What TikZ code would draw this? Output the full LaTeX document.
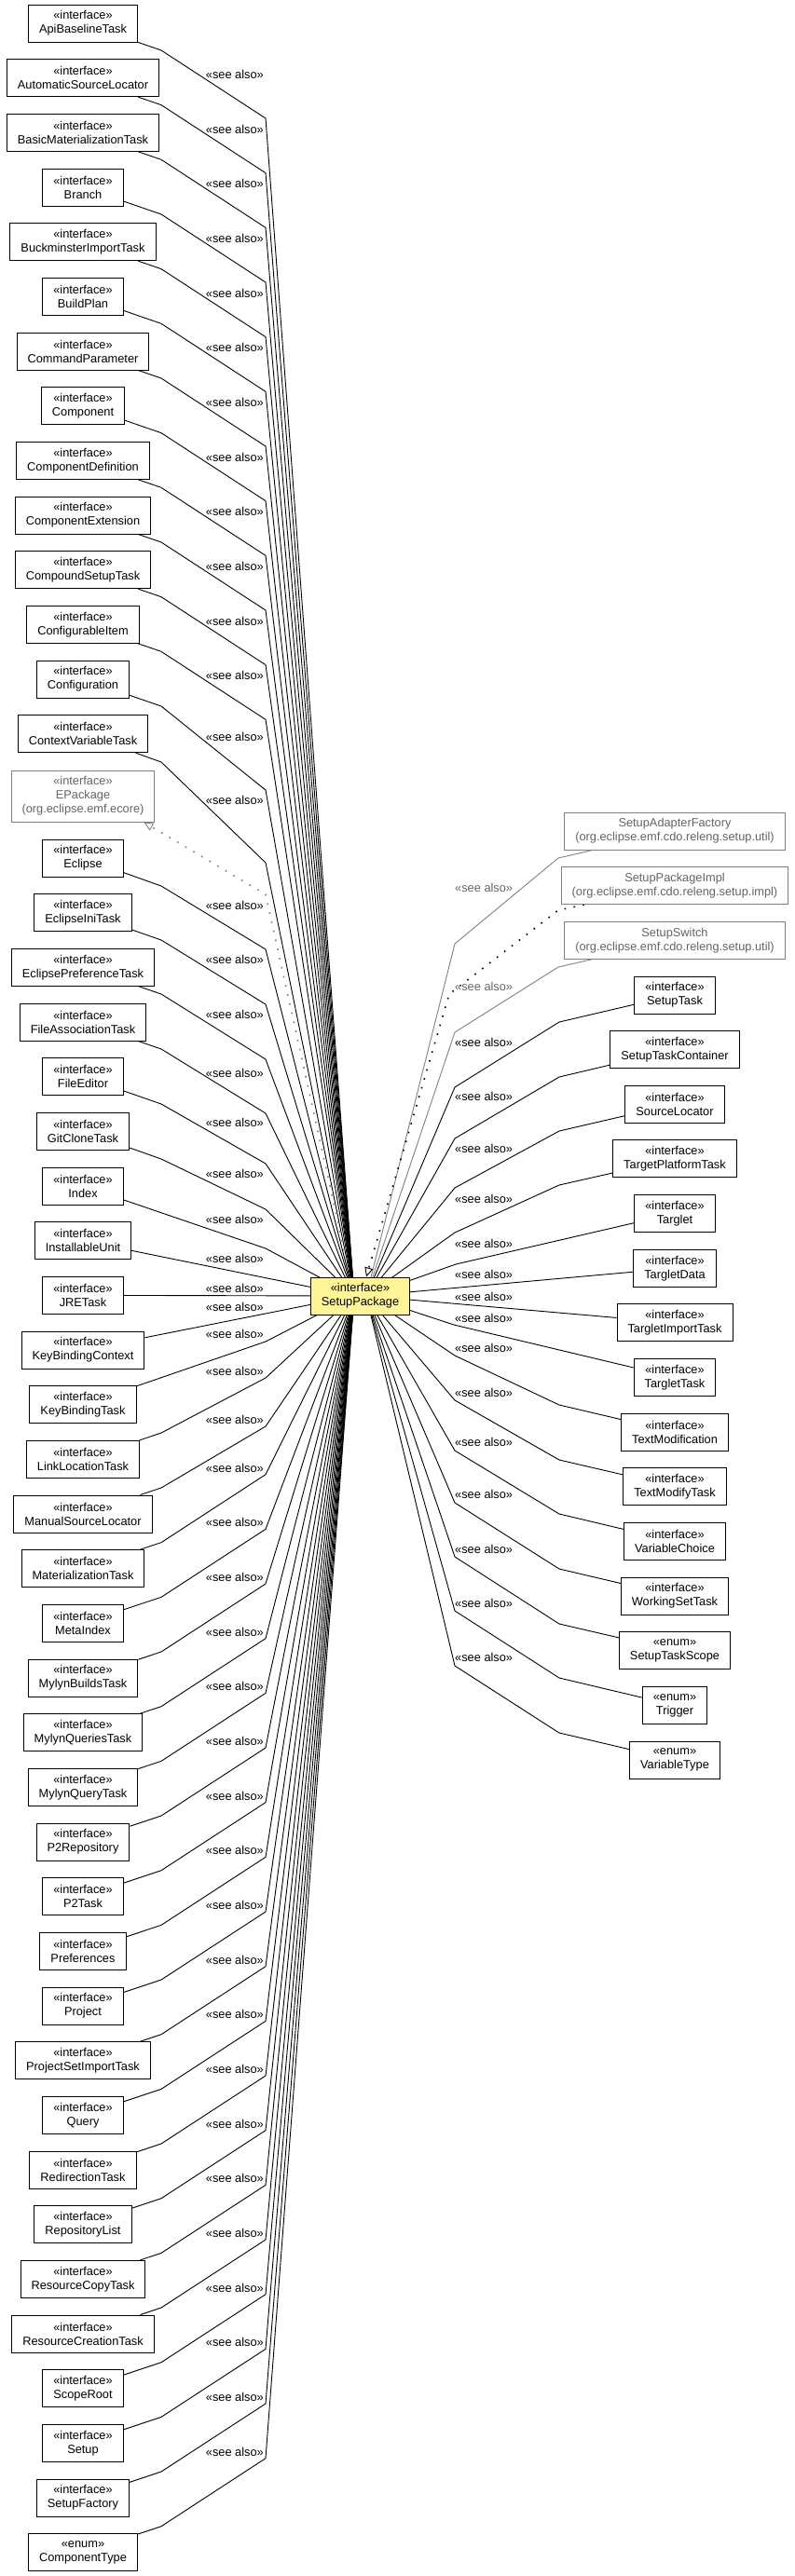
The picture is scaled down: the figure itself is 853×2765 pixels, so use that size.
\documentclass[tikz,border=0pt]{standalone}
\usepackage{fontspec}
\newfontfamily\umlfont{Liberation Sans}
\usetikzlibrary{arrows.meta,backgrounds,calc}
\definecolor{spyellow}{RGB}{255,245,150}
\definecolor{extgray}{RGB}{128,128,128}
\definecolor{exttext}{RGB}{100,100,100}
\newcommand\umlf{\umlfont\fontsize{12.8}{15}\selectfont}
\tikzset{
  umlbox/.style={draw=black, line width=1pt, fill=white, inner xsep=11.5pt, inner ysep=2pt, minimum height=40pt, align=center, font=\umlf},
  extbox/.style={umlbox, draw=extgray, text=exttext},
  spbox/.style={umlbox, fill=spyellow},
  seeedge/.style={draw=black, line width=0.9pt, line join=round},
  extedge/.style={seeedge, draw=extgray},
  realedge/.style={line width=1.6pt, dash pattern=on 1.6pt off 8.4pt, -{Triangle[open, length=10pt, width=9pt, line width=0.9pt]}},
  seelbl/.style={font=\umlf, inner sep=0pt},
}
\newcommand\LBox[3]{\node[umlbox] (#1) at (89,#2) {«interface»\\#3};}
\newcommand\RBox[3]{\node[umlbox] (#1) at (724,#2) {«interface»\\#3};}
\newcommand\LEdge[4]{\draw[seeedge] (#1) -- (173,#2) -- (285,#3) -- (tgtL);
  \node[seelbl, anchor=east] (#1-l) at (283,#4) {«see also»};}
\newcommand\LEdgeS[2]{\draw[seeedge] (#1) -- (tgtL);
  \node[seelbl, anchor=east] (#1-l) at (283,#2) {«see also»};}
\newcommand\REdge[4]{\draw[seeedge] (#1) -- (600,#2) -- (488,#3) -- (tgtR);
  \node[seelbl, anchor=west] (#1-l) at (488,#4) {«see also»};}
\newcommand\REdgeS[2]{\draw[seeedge] (#1) -- (tgtR);
  \node[seelbl, anchor=west] (#1-l) at (488,#2) {«see also»};}
\begin{document}
\begin{tikzpicture}[x=1pt,y=-1pt]
\useasboundingbox (0,0) rectangle (853,2765);
% left column
\LBox{api}{25}{ApiBaselineTask}
\LBox{asl}{83.67}{AutomaticSourceLocator}
\LBox{bmt}{142.33}{BasicMaterializationTask}
\LBox{br}{201}{Branch}
\LBox{bit}{259.67}{BuckminsterImportTask}
\LBox{bp}{318.33}{BuildPlan}
\LBox{cp}{377}{CommandParameter}
\LBox{comp}{435.67}{Component}
\LBox{cdef}{494.33}{ComponentDefinition}
\LBox{cext}{553}{ComponentExtension}
\LBox{cst}{611.67}{CompoundSetupTask}
\LBox{ci}{670.33}{ConfigurableItem}
\LBox{conf}{729}{Configuration}
\LBox{cvt}{787.67}{ContextVariableTask}
\node[extbox, minimum height=55pt] (epk) at (89,854.5) {«interface»\\EPackage\\(org.eclipse.emf.ecore)};
\LBox{ecl}{921}{Eclipse}
\LBox{eit}{979.67}{EclipseIniTask}
\LBox{ept}{1038.33}{EclipsePreferenceTask}
\LBox{fat}{1097}{FileAssociationTask}
\LBox{fe}{1155.67}{FileEditor}
\LBox{gct}{1214.33}{GitCloneTask}
\LBox{idx}{1273}{Index}
\LBox{iu}{1331.67}{InstallableUnit}
\LBox{jre}{1390.33}{JRETask}
\LBox{kbc}{1449}{KeyBindingContext}
\LBox{kbt}{1507.67}{KeyBindingTask}
\LBox{llt}{1566.33}{LinkLocationTask}
\LBox{msl}{1625}{ManualSourceLocator}
\LBox{mt}{1683.67}{MaterializationTask}
\LBox{mi}{1742.33}{MetaIndex}
\LBox{mbt}{1801}{MylynBuildsTask}
\LBox{mqst}{1859.67}{MylynQueriesTask}
\LBox{mqt}{1918.33}{MylynQueryTask}
\LBox{ptr}{1977}{P2Repository}
\LBox{ptt}{2035.67}{P2Task}
\LBox{pref}{2094.33}{Preferences}
\LBox{proj}{2153}{Project}
\LBox{psit}{2211.67}{ProjectSetImportTask}
\LBox{qry}{2270.33}{Query}
\LBox{rt}{2329}{RedirectionTask}
\LBox{rl}{2387.67}{RepositoryList}
\LBox{rct}{2446.33}{ResourceCopyTask}
\LBox{rcrt}{2505}{ResourceCreationTask}
\LBox{sr}{2563.67}{ScopeRoot}
\LBox{setup}{2622.33}{Setup}
\LBox{sf}{2681}{SetupFactory}
\node[umlbox] (ctype) at (89,2739.67) {«enum»\\ComponentType};
% right column
\node[extbox] (saf) at (724,892) {SetupAdapterFactory\\(org.eclipse.emf.cdo.releng.setup.util)};
\node[extbox] (spi) at (724,950.65) {SetupPackageImpl\\(org.eclipse.emf.cdo.releng.setup.impl)};
\node[extbox] (ssw) at (724,1009.3) {SetupSwitch\\(org.eclipse.emf.cdo.releng.setup.util)};
\RBox{stask}{1068}{SetupTask}
\RBox{stc}{1126.6}{SetupTaskContainer}
\RBox{sloc}{1185.25}{SourceLocator}
\RBox{tpt}{1243.9}{TargetPlatformTask}
\RBox{tgl}{1302.55}{Targlet}
\RBox{tgd}{1361.2}{TargletData}
\RBox{tgit}{1419.85}{TargletImportTask}
\RBox{tgt}{1478.5}{TargletTask}
\RBox{tm}{1537.15}{TextModification}
\RBox{tmt}{1595.8}{TextModifyTask}
\RBox{vc}{1654.45}{VariableChoice}
\RBox{wst}{1713.1}{WorkingSetTask}
\node[umlbox] (sts) at (724,1771.75) {«enum»\\SetupTaskScope};
\node[umlbox] (trig) at (724,1830.4) {«enum»\\Trigger};
\node[umlbox] (vt) at (724,1889.05) {«enum»\\VariableType};
% centre
\node[spbox] (sp) at (386.5,1391) {«interface»\\SetupPackage};
\coordinate (tgtL) at ([xshift=-6.5pt]sp.center);
\coordinate (tgtR) at ([xshift=6.5pt]sp.center);
\coordinate (sptip) at ([xshift=6.5pt]sp.north);
\coordinate (epktip) at ([xshift=-12pt]epk.south east);
\begin{scope}[on background layer]
\LEdge{api}{54}{127}{80}
\LEdge{asl}{112.67}{185.67}{138.67}
\LEdge{bmt}{171.33}{244.33}{197.33}
\LEdge{br}{230}{303}{256}
\LEdge{bit}{288.67}{361.67}{314.67}
\LEdge{bp}{347.33}{420.33}{373.33}
\LEdge{cp}{406}{479}{432}
\LEdge{comp}{464.67}{537.67}{490.67}
\LEdge{cdef}{523.33}{596.33}{549.33}
\LEdge{cext}{582}{655}{608}
\LEdge{cst}{640.67}{713.67}{666.67}
\LEdge{ci}{699.33}{772.33}{725.33}
\LEdge{conf}{758}{848}{791}
\LEdge{cvt}{818}{926}{859}
\draw[realedge, draw=extgray] (tgtL) -- (285,960) -- (epktip);
\LEdge{ecl}{951}{1019}{972}
\LEdge{eit}{1009}{1078}{1030}
\LEdge{ept}{1067}{1137}{1089}
\LEdge{fat}{1126}{1195}{1152}
\LEdge{fe}{1185}{1249}{1205}
\LEdge{gct}{1244}{1298}{1260}
\draw[seeedge] (idx) -- (285,1340) -- (tgtL);
\node[seelbl, anchor=east] (idx-l) at (283,1309) {«see also»};
\LEdgeS{iu}{1351}
\LEdgeS{jre}{1383}
\LEdgeS{kbc}{1403}
\draw[seeedge] (kbt) -- (285,1440) -- (tgtL);
\node[seelbl, anchor=east] (kbt-l) at (283,1432) {«see also»};
\LEdge{llt}{1538}{1479}{1472}
\LEdge{msl}{1597}{1531}{1524}
\LEdge{mt}{1655.67}{1582.67}{1575.67}
\LEdge{mi}{1714.33}{1641.33}{1634.33}
\LEdge{mbt}{1773}{1700}{1693}
\LEdge{mqst}{1831.67}{1758.67}{1751.67}
\LEdge{mqt}{1890.33}{1817.33}{1810.33}
\LEdge{ptr}{1949}{1876}{1869}
\LEdge{ptt}{2007.67}{1934.67}{1927.67}
\LEdge{pref}{2066.33}{1993.33}{1986.33}
\LEdge{proj}{2125}{2052}{2045}
\LEdge{psit}{2183.67}{2110.67}{2103.67}
\LEdge{qry}{2242.33}{2169.33}{2162.33}
\LEdge{rt}{2301}{2228}{2221}
\LEdge{rl}{2359.67}{2286.67}{2279.67}
\LEdge{rct}{2418.33}{2345.33}{2338.33}
\LEdge{rcrt}{2477}{2404}{2397}
\LEdge{sr}{2535.67}{2462.67}{2455.67}
\LEdge{setup}{2594.33}{2521.33}{2514.33}
\LEdge{sf}{2653}{2580}{2573}
\LEdge{ctype}{2711.67}{2638.67}{2631.67}
% right edges
\draw[extedge] (saf) -- (599,921) -- (488,1013) -- (tgtR);
\node[seelbl, anchor=west, text=exttext] (saf-l) at (488,953) {«see also»};
\draw[realedge] (spi) -- (599,977) -- (482,1067) -- (sptip);
\draw[extedge] (ssw) -- (599,1038) -- (488,1108) -- (tgtR);
\node[seelbl, anchor=west, text=exttext] (ssw-l) at (488,1059) {«see also»};
\REdge{stask}{1097}{1167}{1119}
\REdge{stc}{1156}{1222}{1177}
\REdge{sloc}{1214}{1275}{1233}
\REdge{tpt}{1272}{1323}{1287}
\draw[seeedge] (tgl) -- (489,1357) -- (tgtR);
\node[seelbl, anchor=west] (tgl-l) at (488,1335) {«see also»};
\REdgeS{tgd}{1368}
\REdgeS{tgit}{1392}
\draw[seeedge] (tgt) -- (487,1422) -- (tgtR);
\node[seelbl, anchor=west] (tgt-l) at (488,1415) {«see also»};
\REdge{tm}{1508}{1455}{1447}
\REdge{tmt}{1567}{1503}{1495}
\REdge{vc}{1625}{1557}{1548}
\REdge{wst}{1684}{1613}{1604}
\REdge{sts}{1743}{1671}{1663}
\REdge{trig}{1801}{1729}{1721}
\REdge{vt}{1860}{1788}{1779}
\end{scope}
\end{tikzpicture}
\end{document}
